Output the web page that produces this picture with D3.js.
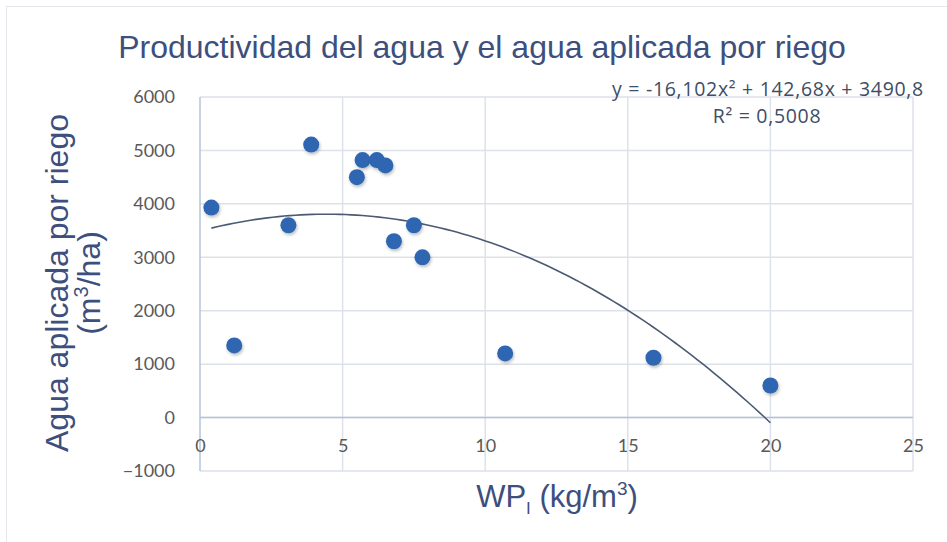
<!DOCTYPE html>
<html>
<head>
<meta charset="utf-8">
<script src="https://cdn.jsdelivr.net/npm/d3@7"></script>
<style>
  body { margin: 0; background: #fff; }
  svg { display: block; }
</style>
</head>
<body>
<div id="chart"></div>
<script>
// data
const wpValues = [0.4, 1.2, 3.1, 3.9, 5.5, 5.7, 6.2, 6.5, 6.8, 7.5, 7.8, 10.7, 15.9, 20.0];
const aguaValues = [3930, 1350, 3600, 5110, 4500, 4820, 4820, 4720, 3300, 3600, 3000, 1200, 1120, 600];
const xTicks = [0, 5, 10, 15, 20, 25];
const yTicks = [-1000, 0, 1000, 2000, 3000, 4000, 5000, 6000];
const trendCoef = [-16.102, 142.68, 3490.8];  // a, b, c
const eqLabel = "y = -16,102x² + 142,68x + 3490,8";
const r2Label = "R² = 0,5008";

const width = 947, height = 542;
const margin = {left: 200, right: 34, top: 97, bottom: 71};

const x = d3.scaleLinear().domain([0, 25]).range([margin.left, width - margin.right]);
const y = d3.scaleLinear().domain([-1000, 6000]).range([height - margin.bottom, margin.top]);

const svg = d3.select("#chart").append("svg")
    .attr("width", width)
    .attr("height", height);

// chart border (faint)
svg.append("rect")
    .attr("x", 6.5).attr("y", 6.5)
    .attr("width", width + 20).attr("height", height - 5)
    .attr("fill", "none")
    .attr("stroke", "#e6e6ec");

const defs = svg.append("defs");
const f = defs.append("filter").attr("id", "shadow")
    .attr("x", "-50%").attr("y", "-50%").attr("width", "200%").attr("height", "200%");
f.append("feDropShadow")
    .attr("dx", 1).attr("dy", 2).attr("stdDeviation", 1.5)
    .attr("flood-color", "#000").attr("flood-opacity", 0.25);

// gridlines
svg.append("g")
    .selectAll("line")
    .data(yTicks)
    .join("line")
    .attr("x1", margin.left).attr("x2", width - margin.right)
    .attr("y1", d => y(d)).attr("y2", d => y(d))
    .attr("stroke", "#dde2ea")
    .attr("stroke-width", 1.5);

svg.append("g")
    .selectAll("line")
    .data(xTicks.slice(1))
    .join("line")
    .attr("x1", d => x(d)).attr("x2", d => x(d))
    .attr("y1", margin.top).attr("y2", height - margin.bottom)
    .attr("stroke", "#dde2ea")
    .attr("stroke-width", 1.5);

// axes lines
svg.append("line")
    .attr("x1", x(0)).attr("x2", x(0))
    .attr("y1", margin.top).attr("y2", height - margin.bottom)
    .attr("stroke", "#b4c3dc").attr("stroke-width", 1.5);
svg.append("line")
    .attr("x1", margin.left).attr("x2", width - margin.right)
    .attr("y1", y(0)).attr("y2", y(0))
    .attr("stroke", "#b4c3dc").attr("stroke-width", 1.5);

// tick labels
const yAxis = d3.axisLeft(y).tickValues(yTicks).tickFormat(d3.format("d")).tickSize(0).tickPadding(25);
svg.append("g")
    .attr("transform", `translate(${margin.left},0)`)
    .call(yAxis)
    .call(g => g.select(".domain").remove())
    .call(g => g.selectAll("text")
        .attr("font-family", "Lato, 'Open Sans', sans-serif")
        .attr("font-size", 18)
        .attr("fill", "#595959"));

const xAxis = d3.axisBottom(x).tickValues(xTicks).tickFormat(d3.format("d")).tickSize(0).tickPadding(22);
svg.append("g")
    .attr("transform", `translate(0,${y(0)})`)
    .call(xAxis)
    .call(g => g.select(".domain").remove())
    .call(g => g.selectAll("text")
        .attr("font-family", "Lato, 'Open Sans', sans-serif")
        .attr("font-size", 18)
        .attr("fill", "#595959"));

// trendline
const xMin = d3.min(wpValues), xMax = d3.max(wpValues);
const trend = d3.range(0, 101).map(i => {
  const xv = xMin + (xMax - xMin) * i / 100;
  return [xv, trendCoef[0] * xv * xv + trendCoef[1] * xv + trendCoef[2]];
});
svg.append("path")
    .datum(trend)
    .attr("fill", "none")
    .attr("stroke", "#4a5a73")
    .attr("stroke-width", 1.6)
    .attr("d", d3.line().x(d => x(d[0])).y(d => y(d[1])));

// points
svg.append("g")
    .selectAll("circle")
    .data(wpValues.map((v, i) => [v, aguaValues[i]]))
    .join("circle")
    .attr("cx", d => x(d[0]))
    .attr("cy", d => y(d[1]))
    .attr("r", 8)
    .attr("fill", "#2e66b1")
    .attr("filter", "url(#shadow)");

// equation
svg.append("text")
    .attr("x", 768).attr("y", 96)
    .attr("text-anchor", "middle")
    .attr("font-family", "'Open Sans', Lato, sans-serif")
    .attr("font-size", 19.5)
    .attr("letter-spacing", 0.7)
    .attr("fill", "#404d66")
    .text(eqLabel);
svg.append("text")
    .attr("x", 767).attr("y", 123)
    .attr("text-anchor", "middle")
    .attr("font-family", "'Open Sans', Lato, sans-serif")
    .attr("font-size", 19.5)
    .attr("letter-spacing", 0.7)
    .attr("fill", "#404d66")
    .text(r2Label);

// title
svg.append("text")
    .attr("x", 482).attr("y", 58)
    .attr("text-anchor", "middle")
    .attr("font-family", "'Liberation Sans', Arial, sans-serif")
    .attr("font-size", 32)
    .attr("fill", "#3d4f7c")
    .text("Productividad del agua y el agua aplicada por riego");

// y axis title
const yt = svg.append("text")
    .attr("transform", "translate(68,283) rotate(-90)")
    .attr("text-anchor", "middle")
    .attr("font-family", "'Liberation Sans', Arial, sans-serif")
    .attr("font-size", 32)
    .attr("fill", "#3d4f7c");
yt.append("tspan").attr("x", 0).attr("y", 0).text("Agua aplicada por riego");
const l2 = yt.append("tspan").attr("x", 0).attr("dy", 32).text("(m");
l2.append("tspan").attr("font-size", 20).attr("dy", -12).text("3");
l2.append("tspan").attr("dy", 12).text("/ha)");

// x axis title
const xt = svg.append("text")
    .attr("x", 557).attr("y", 507)
    .attr("text-anchor", "middle")
    .attr("font-family", "'Liberation Sans', Arial, sans-serif")
    .attr("font-size", 31)
    .attr("fill", "#3d4f7c");
xt.append("tspan").text("WP");
xt.append("tspan").attr("font-size", 17).attr("dy", 7).text("I");
xt.append("tspan").attr("dy", -7).text(" (kg/m");
xt.append("tspan").attr("font-size", 19).attr("dy", -12).text("3");
xt.append("tspan").attr("dy", 12).text(")");
</script>
</body>
</html>
